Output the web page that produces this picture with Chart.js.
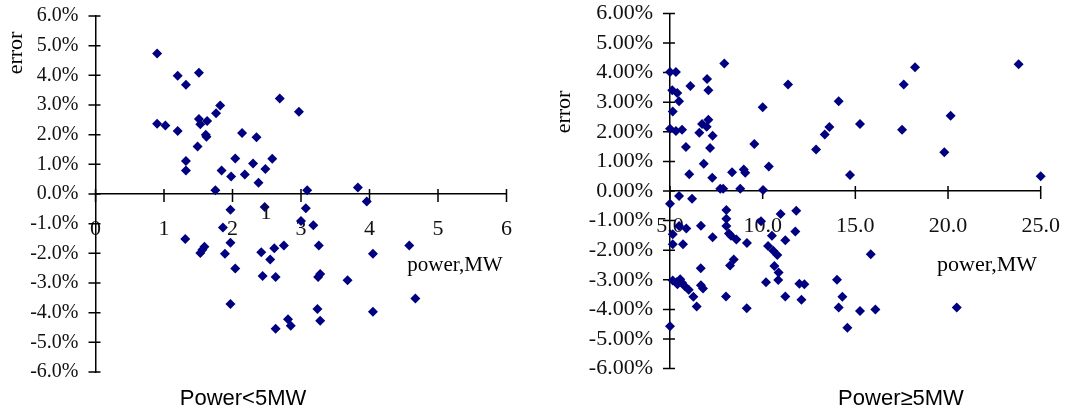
<!DOCTYPE html>
<html>
<head>
<meta charset="utf-8">
<script src="https://cdn.jsdelivr.net/npm/chart.js@4.4.1/dist/chart.umd.min.js"></script>
<style>
  html, body { margin: 0; padding: 0; background: #fff; }
  #wrap { position: relative; width: 1065px; height: 412px; }
  .box { position: absolute; top: 0; height: 412px; }
  #leftBox { left: 0; width: 533px; }
  #rightBox { left: 533px; width: 532px; }
</style>
</head>
<body>
<div id="wrap">
  <div class="box" id="leftBox"><canvas id="leftChart"></canvas></div>
  <div class="box" id="rightBox"><canvas id="rightChart"></canvas></div>
</div>
<script>
// Power < 5MW : power (MW) and error (%)
const leftPower = [0.90, 1.20, 1.51, 1.32, 2.69, 2.97, 1.82, 1.76, 0.90, 1.02, 1.20, 1.51, 1.53, 1.63, 1.61, 1.62,
  1.49, 2.14, 2.35, 2.04, 1.32, 1.32, 1.84, 1.98, 2.18, 2.30, 2.48, 2.58, 2.38, 1.75, 3.09, 3.83, 3.96, 1.97, 2.47,
  3.07, 3.00, 3.18, 1.86, 1.31, 1.59, 1.53, 1.56, 1.97, 1.89, 2.42, 2.61, 2.75, 2.55, 3.26, 4.05, 4.58, 2.04, 2.44,
  2.63, 3.25, 3.28, 3.68, 1.97, 3.24, 3.28, 4.05, 4.67, 2.63, 2.81, 2.85];
const leftError = [4.74, 3.99, 4.09, 3.68, 3.22, 2.77, 2.98, 2.72, 2.37, 2.31, 2.12, 2.53, 2.35, 2.46, 2.00, 1.93,
  1.60, 2.06, 1.91, 1.20, 1.11, 0.79, 0.79, 0.59, 0.66, 1.03, 0.84, 1.19, 0.38, 0.13, 0.13, 0.22, -0.25, -0.53, -0.44,
  -0.48, -0.91, -1.05, -1.13, -1.52, -1.78, -1.99, -1.88, -1.64, -2.01, -1.96, -1.83, -1.74, -2.21, -1.74, -2.01, -1.74, -2.51, -2.76,
  -2.80, -2.80, -2.70, -2.91, -3.71, -3.88, -4.27, -3.97, -3.52, -4.54, -4.22, -4.44];

// Power >= 5MW : power (MW) and error (%)
const rightPower = [5.00, 5.32, 7.93, 11.37, 6.10, 7.00, 7.07, 5.12, 5.39, 5.49, 10.00, 5.15, 5.00, 5.32, 5.65, 7.07,
  6.73, 6.98, 6.58, 7.30, 9.55, 5.86, 7.16, 6.82, 10.33, 6.04, 8.35, 8.98, 9.06, 7.28, 7.71, 7.87, 8.79, 10.02, 5.49,
  6.19, 5.00, 8.04, 8.04, 8.04, 6.67, 5.49, 5.88, 5.15, 5.15, 5.70, 7.30, 8.18, 8.29, 8.58, 9.15, 9.91, 10.97, 11.81,
  10.50, 11.22, 11.76, 10.29, 10.57, 10.79, 8.44, 8.24, 6.66, 10.63, 10.86, 10.84, 10.18, 5.15, 5.40, 5.55, 5.65, 5.80,
  5.35, 6.01, 6.67, 6.78, 6.26, 6.44, 8.02, 9.14, 11.22, 5.00, 11.98, 18.22, 23.81, 17.61, 14.10, 20.14, 15.25, 17.52,
  13.60, 13.35, 12.88, 19.80, 14.71, 25.00, 15.83, 12.25, 12.09, 14.01, 14.30, 14.10, 15.25, 16.08, 14.57, 20.47];
const rightError = [4.02, 4.02, 4.31, 3.60, 3.55, 3.78, 3.40, 3.40, 3.31, 3.03, 2.83, 2.69, 2.10, 2.03, 2.07, 2.41,
  2.26, 2.17, 1.97, 1.87, 1.59, 1.49, 1.45, 0.92, 0.83, 0.57, 0.63, 0.73, 0.62, 0.45, 0.08, 0.08, 0.08, 0.03, -0.17,
  -0.26, -0.43, -0.64, -0.94, -1.18, -1.17, -1.18, -1.27, -1.46, -1.80, -1.80, -1.56, -1.44, -1.51, -1.64, -1.76, -1.02, -0.78, -0.67,
  -1.51, -1.66, -1.37, -1.86, -2.02, -2.16, -2.31, -2.52, -2.61, -2.53, -2.75, -3.01, -3.08, -3.02, -3.15, -2.98, -3.10, -3.22,
  -3.08, -3.34, -3.18, -3.29, -3.57, -3.90, -3.56, -3.96, -3.56, -4.57, -3.13, 4.18, 4.28, 3.60, 3.03, 2.54, 2.26, 2.07,
  2.16, 1.91, 1.40, 1.31, 0.54, 0.50, -2.14, -3.15, -3.67, -3.00, -3.57, -3.94, -4.05, -4.00, -4.62, -3.94];

const toPoints = (xs, ys) => xs.map((x, i) => ({ x, y: ys[i] }));

const serif = "'Liberation Serif', 'DejaVu Serif', serif";
const sans = "'Liberation Sans', Arial, sans-serif";

// short tick marks crossing both axis lines
const crossTicks = {
  id: 'crossTicks',
  beforeDatasetsDraw(chart) {
    const { ctx, chartArea } = chart;
    const xs = chart.scales.x, ys = chart.scales.y;
    const y0 = ys.getPixelForValue(0);
    ctx.save();
    ctx.strokeStyle = '#000';
    ctx.lineWidth = 1.5;
    ctx.beginPath();
    xs.ticks.forEach(t => {
      const px = xs.getPixelForValue(t.value);
      ctx.moveTo(px, y0 - 5);
      ctx.lineTo(px, y0 + 8);
    });
    ys.ticks.forEach(t => {
      const py = ys.getPixelForValue(t.value);
      ctx.moveTo(chartArea.left - 7, py);
      ctx.lineTo(chartArea.left + 5, py);
    });
    ctx.stroke();
    ctx.restore();
  }
};

// axis titles and captions
const freeText = {
  id: 'freeText',
  afterDraw(chart, args, opts) {
    const ctx = chart.ctx;
    (opts.items || []).forEach(it => {
      ctx.save();
      ctx.font = it.font;
      ctx.fillStyle = it.color || '#000';
      ctx.textAlign = 'center';
      ctx.textBaseline = 'middle';
      ctx.translate(it.x, it.y);
      if (it.rotate) ctx.rotate(it.rotate);
      ctx.fillText(it.text, 0, 0);
      ctx.restore();
    });
  }
};

function makeChart(id, pts, cfg) {
  return new Chart(document.getElementById(id), {
    type: 'scatter',
    data: {
      datasets: [{
        data: pts,
        pointStyle: 'rectRot',
        pointRadius: 5,
        pointHoverRadius: 5,
        backgroundColor: '#000080',
        borderColor: '#000080',
        borderWidth: 0,
        clip: false
      }]
    },
    options: {
      animation: false,
      responsive: true,
      maintainAspectRatio: false,
      layout: { padding: { left: 0, right: cfg.padRight, top: cfg.padTop, bottom: cfg.padBottom } },
      plugins: {
        legend: { display: false },
        tooltip: { enabled: false },
        freeText: { items: cfg.texts }
      },
      scales: {
        x: {
          type: 'linear',
          position: { y: 0 },
          min: cfg.xMin,
          max: cfg.xMax,
          afterFit: s => { s.height = 0; s.paddingLeft = 0; s.paddingRight = 0; },
          grid: { display: false, drawTicks: false },
          border: { display: true, color: '#000', width: 1.5 },
          ticks: {
            stepSize: cfg.xStep,
            padding: cfg.xPad,
            color: '#111',
            font: { family: serif, size: 22 },
            callback: v => v.toFixed(cfg.xDigits)
          }
        },
        y: {
          type: 'linear',
          position: 'left',
          min: -6,
          max: 6,
          afterFit: s => { s.width = cfg.yWidth; s.paddingTop = 0; s.paddingBottom = 0; },
          grid: { display: false, drawTicks: false },
          border: { display: true, color: '#000', width: 1.5 },
          ticks: {
            stepSize: 1,
            padding: 17,
            color: '#111',
            font: { family: serif, size: cfg.yFont },
            callback: v => v.toFixed(cfg.yDigits) + '%'
          }
        }
      }
    },
    plugins: [crossTicks, freeText]
  });
}

makeChart('leftChart', toPoints(leftPower, leftError), {
  xMin: 0, xMax: 6, xStep: 1, xDigits: 0, xPad: 22,
  yDigits: 1, yFont: 20, yWidth: 95.5,
  padTop: 16, padBottom: 40, padRight: 26.5,
  texts: [
    { text: 'error', x: 16, y: 53, font: `22px ${serif}`, rotate: -Math.PI / 2 },
    { text: 'power,MW', x: 455, y: 265, font: `21px ${serif}` },
    { text: '1', x: 266, y: 213, font: `22px ${serif}`, color: '#111' },
    { text: 'Power<5MW', x: 243, y: 399, font: `22px ${sans}` }
  ]
});

makeChart('rightChart', toPoints(rightPower, rightError), {
  xMin: 5, xMax: 25, xStep: 5, xDigits: 1, xPad: 22,
  yDigits: 2, yFont: 22, yWidth: 137,
  padTop: 13.4, padBottom: 43.4, padRight: 24.3,
  texts: [
    { text: 'error', x: 31, y: 112, font: `22px ${serif}`, rotate: -Math.PI / 2 },
    { text: 'power,MW', x: 454, y: 265, font: `22px ${serif}` },
    { text: 'Power≥5MW', x: 368, y: 399, font: `22px ${sans}` }
  ]
});
</script>
</body>
</html>
